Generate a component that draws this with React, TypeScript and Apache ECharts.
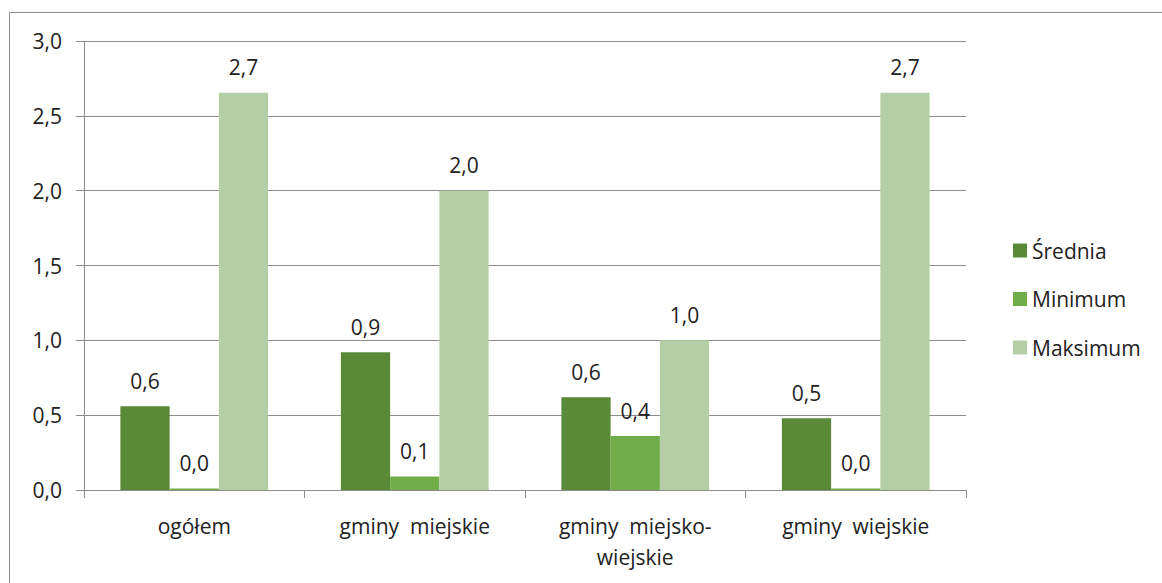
import React, { useEffect, useRef } from "react";
import * as echarts from "echarts";

const categories = ["ogółem", "gminy  miejskie", "gminy  miejsko-\nwiejskie", "gminy  wiejskie"];
const seriesNames = ["Średnia", "Minimum", "Maksimum"];
const srednia = [0.56, 0.92, 0.62, 0.48];
const minimum = [0.01, 0.09, 0.36, 0.01];
const maksimum = [2.655, 2.0, 1.0, 2.655];
const colors = ["#5A8A37", "#70AD47", "#B4CFA5"];

const fmt = (v: number) => (Math.round(v * 10 + 1e-6) / 10).toFixed(1).replace(".", ",");

export default function App() {
  const ref = useRef<HTMLDivElement>(null);
  useEffect(() => {
    const chart = echarts.init(ref.current!, null, { renderer: "svg" });
    const font = "'Open Sans', 'DejaVu Sans', sans-serif";
    const mk = (name: string, data: number[], color: string) => ({
      name,
      type: "bar",
      data,
      itemStyle: { color },
      barGap: "0%",
      barCategoryGap: "33%",
      label: {
        show: true,
        position: "top",
        distance: 15,
        formatter: (p: any) => fmt(p.value),
        fontFamily: font,
        fontSize: 21,
        color: "#222",
      },
    });
    chart.setOption({
      animation: false,
      textStyle: { fontFamily: font },
      grid: { left: 84, right: 196, top: 41, bottom: 93 },
      legend: {
        orient: "vertical",
        left: 1008,
        top: 235,
        itemWidth: 14,
        itemHeight: 14,
        itemGap: 27.5,
        icon: "rect",
        textStyle: { fontFamily: font, fontSize: 21, color: "#222" },
        data: seriesNames,
      },
      xAxis: {
        type: "category",
        data: categories,
        axisLine: { lineStyle: { color: "#8c8c8c" } },
        axisTick: { show: true, length: 8, lineStyle: { color: "#8c8c8c" } },
        axisLabel: {
          fontFamily: font,
          fontSize: 21,
          color: "#222",
          margin: 20,
          lineHeight: 31,
        },
      },
      yAxis: {
        type: "value",
        min: 0,
        max: 3,
        interval: 0.5,
        axisLine: { show: true, lineStyle: { color: "#8c8c8c" } },
        axisTick: { show: true, length: 8, lineStyle: { color: "#8c8c8c" } },
        splitLine: { lineStyle: { color: "#8c8c8c" } },
        axisLabel: {
          fontFamily: font,
          fontSize: 21,
          color: "#222",
          margin: 22,
          formatter: (v: number) => fmt(v),
        },
      },
      graphic: [
        {
          type: "rect",
          shape: { x: 9.5, y: 12.5, width: 1300, height: 700 },
          style: { fill: "none", stroke: "#8c8c8c", lineWidth: 1 },
          silent: true,
        },
      ],
      series: [
        mk(seriesNames[0], srednia, colors[0]),
        mk(seriesNames[1], minimum, colors[1]),
        mk(seriesNames[2], maksimum, colors[2]),
      ],
    });
    return () => chart.dispose();
  }, []);
  return (
    <div
      ref={ref}
      style={{ position: "absolute", left: 0, top: 0, width: 1162, height: 583, background: "#fff" }}
    />
  );
}
